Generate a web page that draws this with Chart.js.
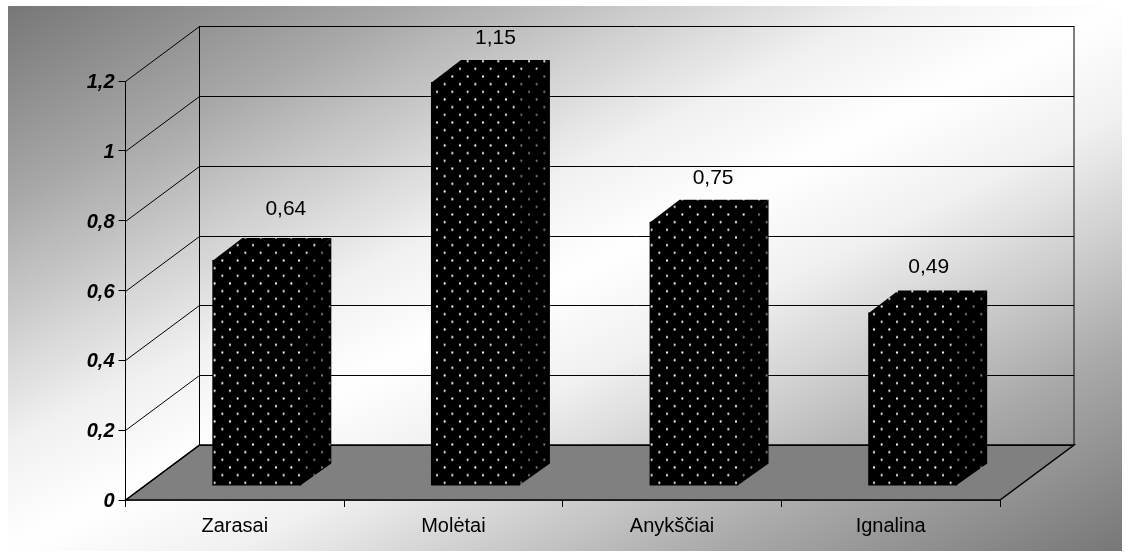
<!DOCTYPE html>
<html>
<head>
<meta charset="utf-8">
<script src="https://cdn.jsdelivr.net/npm/chart.js@4"></script>
<style>
  body { margin: 0; background: #fff; }
  canvas { display: block; }
</style>
</head>
<body>
<canvas id="chart" width="1133" height="557"></canvas>
<script>
// values
const categories = ['Zarasai', 'Molėtai', 'Anykščiai', 'Ignalina'];
const seriesValues = [0.64, 1.15, 0.75, 0.49];
const tickLabels = ['0', '0,2', '0,4', '0,6', '0,8', '1', '1,2'];

// 3D look
const wallShift = { x: 74, y: -55 };   // front plane to back wall
const barShift = { x: 22, y: -16.5 };  // front plane to front of the bars
const barDepth = { x: 30, y: -22 };
const labelShift = [29, 20, 19, 16];
const labelRise = [29, 22, 21, 23];
const fontName = '"Liberation Sans", Arial, sans-serif';

// black fill with a staggered grid of small dots
function dotPattern(dotColor) {
    const tile = document.createElement('canvas');
    tile.width = 46;
    tile.height = 46;
    const c = tile.getContext('2d');
    c.fillStyle = '#000';
    c.fillRect(0, 0, 46, 46);
    c.fillStyle = dotColor;
    for (let row = 0; row < 6; row++) {
        for (let col = 0; col < 3; col++) {
            const x = col * 46 / 3 + (row % 2 ? 46 / 6 : 0);
            const y = row * 46 / 6;
            c.beginPath();
            c.arc(x + 1, y + 1, 1.15, 0, Math.PI * 2);
            c.fill();
        }
    }
    return document.createElement('canvas').getContext('2d').createPattern(tile, 'repeat');
}

function polygon(ctx, pts) {
    ctx.beginPath();
    pts.forEach((p, i) => i ? ctx.lineTo(p[0], p[1]) : ctx.moveTo(p[0], p[1]));
    ctx.closePath();
}

// grey-white-grey background, bands parallel to the rectangle's other diagonal
const backdrop = {
    id: 'backdrop',
    beforeDraw(chart) {
        const ctx = chart.ctx;
        const x = 8, y = 6, w = 1114, h = 545;
        const norm = Math.hypot(w, h);
        const nx = h / norm, ny = w / norm;
        const reach = w * h / norm;
        const cx = x + w / 2, cy = y + h / 2;
        const g = ctx.createLinearGradient(cx - nx * reach, cy - ny * reach, cx + nx * reach, cy + ny * reach);
        g.addColorStop(0, '#777777');
        g.addColorStop(0.18, '#a8a8a8');
        g.addColorStop(0.3, '#d0d0d0');
        g.addColorStop(0.4, '#f0f0f0');
        g.addColorStop(0.5, '#ffffff');
        g.addColorStop(0.6, '#f0f0f0');
        g.addColorStop(0.7, '#d0d0d0');
        g.addColorStop(0.82, '#a8a8a8');
        g.addColorStop(1, '#777777');
        ctx.fillStyle = g;
        ctx.fillRect(x, y, w, h);
    }
};

// floor, back wall and the grid lines running up it
const walls = {
    id: 'walls',
    beforeDatasetsDraw(chart) {
        const ctx = chart.ctx;
        const { left, right } = chart.chartArea;
        const yScale = chart.scales.y;
        const zero = yScale.getPixelForValue(0);
        const backLeft = left + wallShift.x, backRight = right + wallShift.x;

        ctx.save();
        polygon(ctx, [[left, zero], [backLeft, zero + wallShift.y], [backRight, zero + wallShift.y], [right, zero]]);
        ctx.fillStyle = '#808080';
        ctx.fill();
        ctx.strokeStyle = '#000';
        ctx.lineWidth = 1.5;
        ctx.stroke();

        ctx.lineWidth = 1;
        yScale.ticks.forEach(tick => {
            const py = Math.round(yScale.getPixelForValue(tick.value)) + 0.5;
            ctx.beginPath();
            ctx.moveTo(left, py);
            ctx.lineTo(backLeft, py + wallShift.y);
            ctx.lineTo(backRight, py + wallShift.y);
            ctx.stroke();
        });
        const top = yScale.getPixelForValue(1.2) + wallShift.y;
        ctx.beginPath();
        ctx.moveTo(backLeft, top);
        ctx.lineTo(backLeft, zero + wallShift.y);
        ctx.moveTo(backRight, top);
        ctx.lineTo(backRight, zero + wallShift.y);
        ctx.stroke();
        ctx.restore();
    }
};

// side and top go down first, the library then draws the front faces over them
const bars3d = {
    id: 'bars3d',
    beforeDatasetDraw(chart) {
        const ctx = chart.ctx;
        ctx.save();
        ctx.translate(barShift.x, barShift.y);
        chart.getDatasetMeta(0).data.forEach(bar => {
            const l = bar.x - bar.width / 2, r = bar.x + bar.width / 2;
            polygon(ctx, [[l, bar.y + 1], [l + barDepth.x, bar.y + barDepth.y], [r + barDepth.x, bar.y + barDepth.y], [r, bar.y + 1]]);
            ctx.fillStyle = dotsTop;
            ctx.fill();
            polygon(ctx, [[r - 1, bar.y], [r + barDepth.x, bar.y + barDepth.y], [r + barDepth.x, bar.base + barDepth.y], [r - 1, bar.base]]);
            ctx.fillStyle = dotsSide;
            ctx.fill();
        });
    },
    afterDatasetDraw(chart) {
        const ctx = chart.ctx;
        ctx.restore();

        ctx.save();
        ctx.font = '21px ' + fontName;
        ctx.fillStyle = '#000';
        ctx.textAlign = 'center';
        ctx.textBaseline = 'middle';
        chart.getDatasetMeta(0).data.forEach((bar, i) => {
            const text = String(seriesValues[i]).replace('.', ',');
            ctx.fillText(text, bar.x + barShift.x + labelShift[i], bar.y + barShift.y + barDepth.y - labelRise[i]);
        });
        ctx.restore();
    }
};

const dotsFront = dotPattern('#ffffff');
const dotsTop = dotPattern('#ffffff');
const dotsSide = dotPattern('#808080');

new Chart(document.getElementById('chart'), {
    type: 'bar',
    data: {
        labels: categories,
        datasets: [{
            data: seriesValues,
            base: -0.006,
            backgroundColor: dotsFront,
            borderWidth: 0,
            categoryPercentage: 1,
            barPercentage: 0.407,
            clip: false
        }]
    },
    options: {
        responsive: false,
        animation: false,
        layout: { padding: { top: 81, right: 133 } },
        plugins: { legend: { display: false }, tooltip: { enabled: false } },
        scales: {
            x: {
                afterFit(scale) { scale.height = 57; },
                grid: { drawOnChartArea: false, color: '#000', tickLength: 7 },
                border: { color: '#000', width: 1.5 },
                ticks: { color: '#000', font: { family: fontName, size: 20 }, padding: 7, maxRotation: 0 }
            },
            y: {
                min: 0,
                max: 1.2,
                afterFit(scale) { scale.width = 125.5; },
                grid: { drawOnChartArea: false, color: '#000', tickLength: 7 },
                border: { color: '#000', width: 1 },
                ticks: {
                    stepSize: 0.2,
                    color: '#000',
                    padding: 4,
                    labelOffset: 1.5,
                    font: { family: fontName, size: 20, weight: 'bold', style: 'italic' },
                    callback(value, index) { return tickLabels[index]; }
                }
            }
        }
    },
    plugins: [backdrop, walls, bars3d]
});
</script>
</body>
</html>
